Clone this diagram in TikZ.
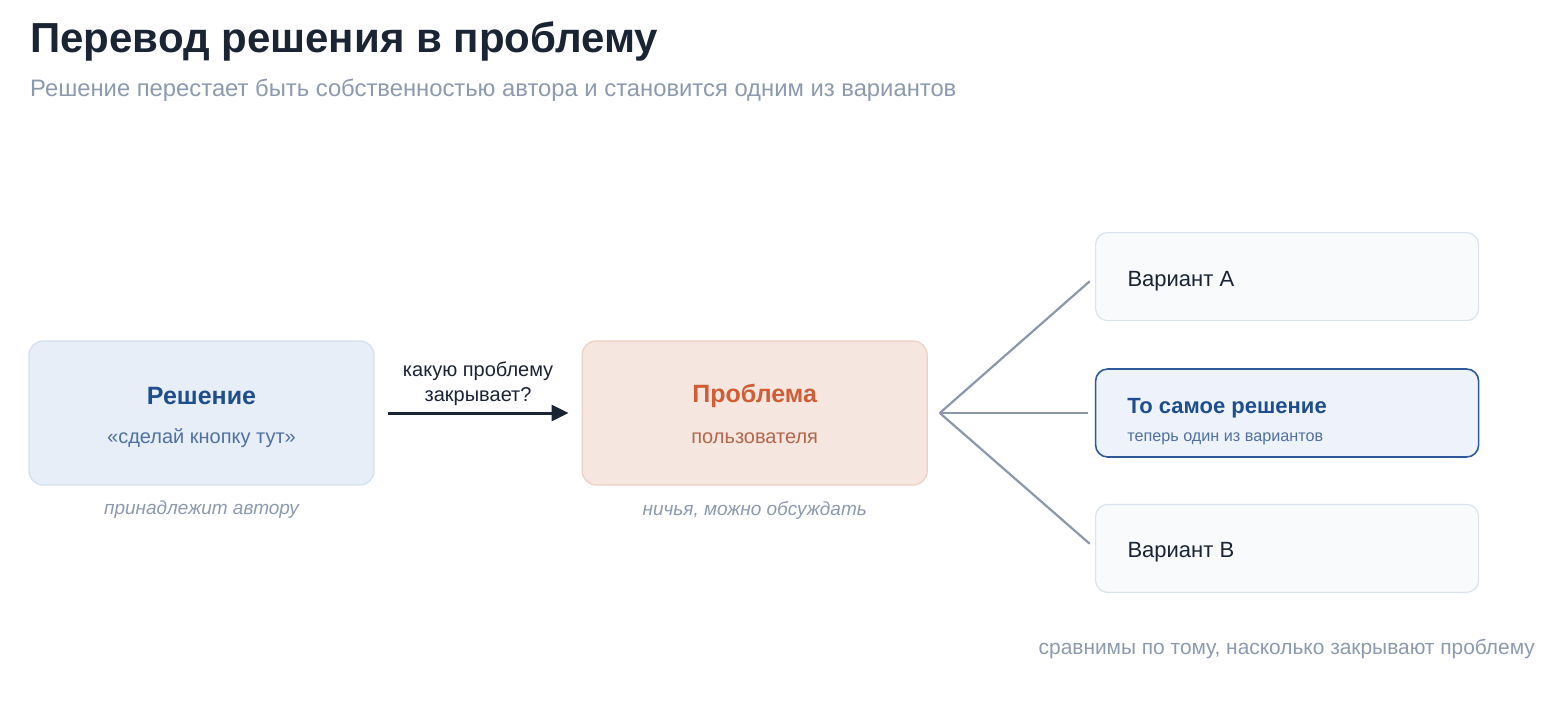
\documentclass[tikz,border=0pt]{standalone}
\usepackage{fontspec}
\setmainfont{Liberation Sans}
\usetikzlibrary{positioning, arrows.meta}
\definecolor{ink}{HTML}{1B2433}
\definecolor{muted}{HTML}{8D9AAE}
\definecolor{solfill}{HTML}{E8EEF7}
\definecolor{soldraw}{HTML}{D3DFEE}
\definecolor{solblue}{HTML}{1F4E8C}
\definecolor{solsub}{HTML}{4F70A3}
\definecolor{probfill}{HTML}{F6E6E0}
\definecolor{probdraw}{HTML}{EDCFC3}
\definecolor{probred}{HTML}{CF5D36}
\definecolor{probsub}{HTML}{B3664A}
\definecolor{varfill}{HTML}{F8FAFC}
\definecolor{vardraw}{HTML}{DDE3EC}
\definecolor{selfill}{HTML}{EEF3FB}
\definecolor{seldraw}{HTML}{2E5A9A}
\definecolor{fanline}{HTML}{8C98AA}

\begin{document}
\begin{tikzpicture}[x=1pt, y=-1pt,
    bigbox/.style={rounded corners=14pt, line width=1.2pt, minimum width=345pt, minimum height=144pt, inner sep=0pt},
    varbox/.style={rounded corners=12pt, line width=1.2pt, minimum width=383pt, minimum height=88pt, inner sep=0pt, draw=vardraw, fill=varfill},
    head/.style={font=\fontsize{25}{29}\selectfont\bfseries},
    sub/.style={font=\fontsize{20}{24}\selectfont},
    note/.style={font=\fontsize{19}{22}\selectfont\itshape, text=muted},
    varlabel/.style={anchor=west, font=\fontsize{22}{26}\selectfont, text=ink}]
    \useasboundingbox[fill=white] (0,0) rectangle (1560,710);

    \node[anchor=base west, font=\fontsize{42}{46}\selectfont\bfseries, text=ink, inner sep=0pt] (title) at (30,52) {Перевод решения в проблему};
    \node[anchor=base west, font=\fontsize{23.8}{28}\selectfont, text=muted, inner sep=0pt] (subtitle) at (30,96) {Решение перестает быть собственностью автора и становится одним из вариантов};

    \node[bigbox, draw=soldraw, fill=solfill] (sol) at (201.5,413) {};
    \node[bigbox, draw=probdraw, fill=probfill, right=207pt of sol] (prob) {};
    \node[varbox, draw=seldraw, fill=selfill, line width=1.6pt, right=167pt of prob] (same) {};
    \node[varbox, above=47pt of same] (varA) {};
    \node[varbox, below=46pt of same] (varB) {};

    \node[head, text=solblue] (solhead) at ([yshift=17pt]sol.center) {Решение};
    \node[sub, text=solsub] (solsub) at ([yshift=-25pt]sol.center) {«сделай кнопку тут»};
    \node[note, below=12pt of sol] (solnote) {принадлежит автору};

    \node[head, text=probred] (probhead) at ([yshift=17pt]prob.center) {Проблема};
    \node[sub, text=probsub] (probsub) at ([yshift=-25pt]prob.center) {пользователя};
    \node[note, below=12pt of prob] (probnote) {ничья, можно обсуждать};

    \draw[-{Triangle[length=17pt, width=16pt]}, line width=3pt, ink, shorten <=13pt, shorten >=13pt] (sol) -- node[above=3pt, align=center, font=\fontsize{20}{25}\selectfont, text=ink] {какую проблему\\закрывает?} (prob);

    \coordinate (fan) at ([xshift=12pt]prob.east);
    \draw[fanline, line width=2.2pt, shorten >=7pt] (fan) -- (varA.west);
    \draw[fanline, line width=2.2pt, shorten >=7pt] (fan) -- (same.west);
    \draw[fanline, line width=2.2pt, shorten >=7pt] (fan) -- (varB.west);

    \node[varlabel] (labA) at ([xshift=29pt, yshift=-5pt]varA.west) {Вариант А};
    \node[varlabel, font=\fontsize{22}{26}\selectfont\bfseries, text=solblue] (labS) at ([xshift=29pt, yshift=5pt]same.west) {То самое решение};
    \node[varlabel, font=\fontsize{16.2}{19}\selectfont, text=solsub] (labS2) at ([xshift=29pt, yshift=-26pt]same.west) {теперь один из вариантов};
    \node[varlabel] (labB) at ([xshift=29pt, yshift=-4pt]varB.west) {Вариант В};

    \node[anchor=base east, font=\fontsize{20.9}{24}\selectfont, text=muted, inner sep=0pt] (footer) at (1535,654) {сравнимы по тому, насколько закрывают проблему};
  \end{tikzpicture}
\end{document}
